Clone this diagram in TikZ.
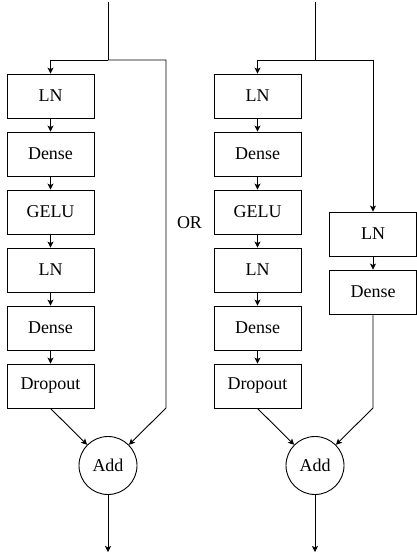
\documentclass[tikz,border=0pt]{standalone}
\usepackage{fontspec}
\setmainfont{Liberation Serif}
\usetikzlibrary{arrows.meta}
\begin{document}
\begin{tikzpicture}[x=1pt,y=-1pt,
  every node/.style={font=\fontsize{18}{20}\selectfont},
  blk/.style={draw, line width=0.9pt, minimum width=87pt, minimum height=44pt, inner sep=0pt},
  addc/.style={draw, line width=0.9pt, circle, minimum size=58pt, inner sep=0pt},
  ln/.style={line width=0.9pt},
  arr/.style={line width=0.9pt, -{Stealth[length=6pt,width=6pt,inset=1.5pt]}}]
\useasboundingbox (0,0) rectangle (416,554);
% left panel
\node[blk] (l1) at (50.5,96) {LN};
\node[blk] (l2) at (50.5,154) {Dense};
\node[blk] (l3) at (50.5,212) {GELU};
\node[blk] (l4) at (50.5,270) {LN};
\node[blk] (l5) at (50.5,328) {Dense};
\node[blk] (l6) at (50.5,386) {Dropout};
\node[addc] (la) at (108,465.5) {Add};
\coordinate (lt) at (108,2);
\coordinate (ls) at (108,60);
\coordinate (lc) at (166,408);
\coordinate (lo) at (108,552);
\draw[ln] (lt) -- (ls);
\draw[arr] (ls) -| (l1.north);
\draw[arr] (ls) -| (lc) -- (la);
\draw[arr] (l1) -- (l2);
\draw[arr] (l2) -- (l3);
\draw[arr] (l3) -- (l4);
\draw[arr] (l4) -- (l5);
\draw[arr] (l5) -- (l6);
\draw[arr] (l6.south) -- (la);
\draw[arr] (la) -- (lo);
% OR
\node (or) at (189.5,223) {OR};
% right panel
\node[blk] (r1) at (257.5,96) {LN};
\node[blk] (r2) at (257.5,154) {Dense};
\node[blk] (r3) at (257.5,212) {GELU};
\node[blk] (r4) at (257.5,270) {LN};
\node[blk] (r5) at (257.5,328) {Dense};
\node[blk] (r6) at (257.5,386) {Dropout};
\node[blk] (b1) at (373,234) {LN};
\node[blk] (b2) at (373,292) {Dense};
\node[addc] (ra) at (315,465.5) {Add};
\coordinate (rt) at (315,2);
\coordinate (rs) at (315,60);
\coordinate (rc) at (373,408);
\coordinate (ro) at (315,552);
\draw[ln] (rt) -- (rs);
\draw[arr] (rs) -| (r1.north);
\draw[arr] (rs) -| (b1.north);
\draw[arr] (b1) -- (b2);
\draw[arr] (b2.south) -- (rc) -- (ra);
\draw[arr] (r1) -- (r2);
\draw[arr] (r2) -- (r3);
\draw[arr] (r3) -- (r4);
\draw[arr] (r4) -- (r5);
\draw[arr] (r5) -- (r6);
\draw[arr] (r6.south) -- (ra);
\draw[arr] (ra) -- (ro);
\end{tikzpicture}
\end{document}
